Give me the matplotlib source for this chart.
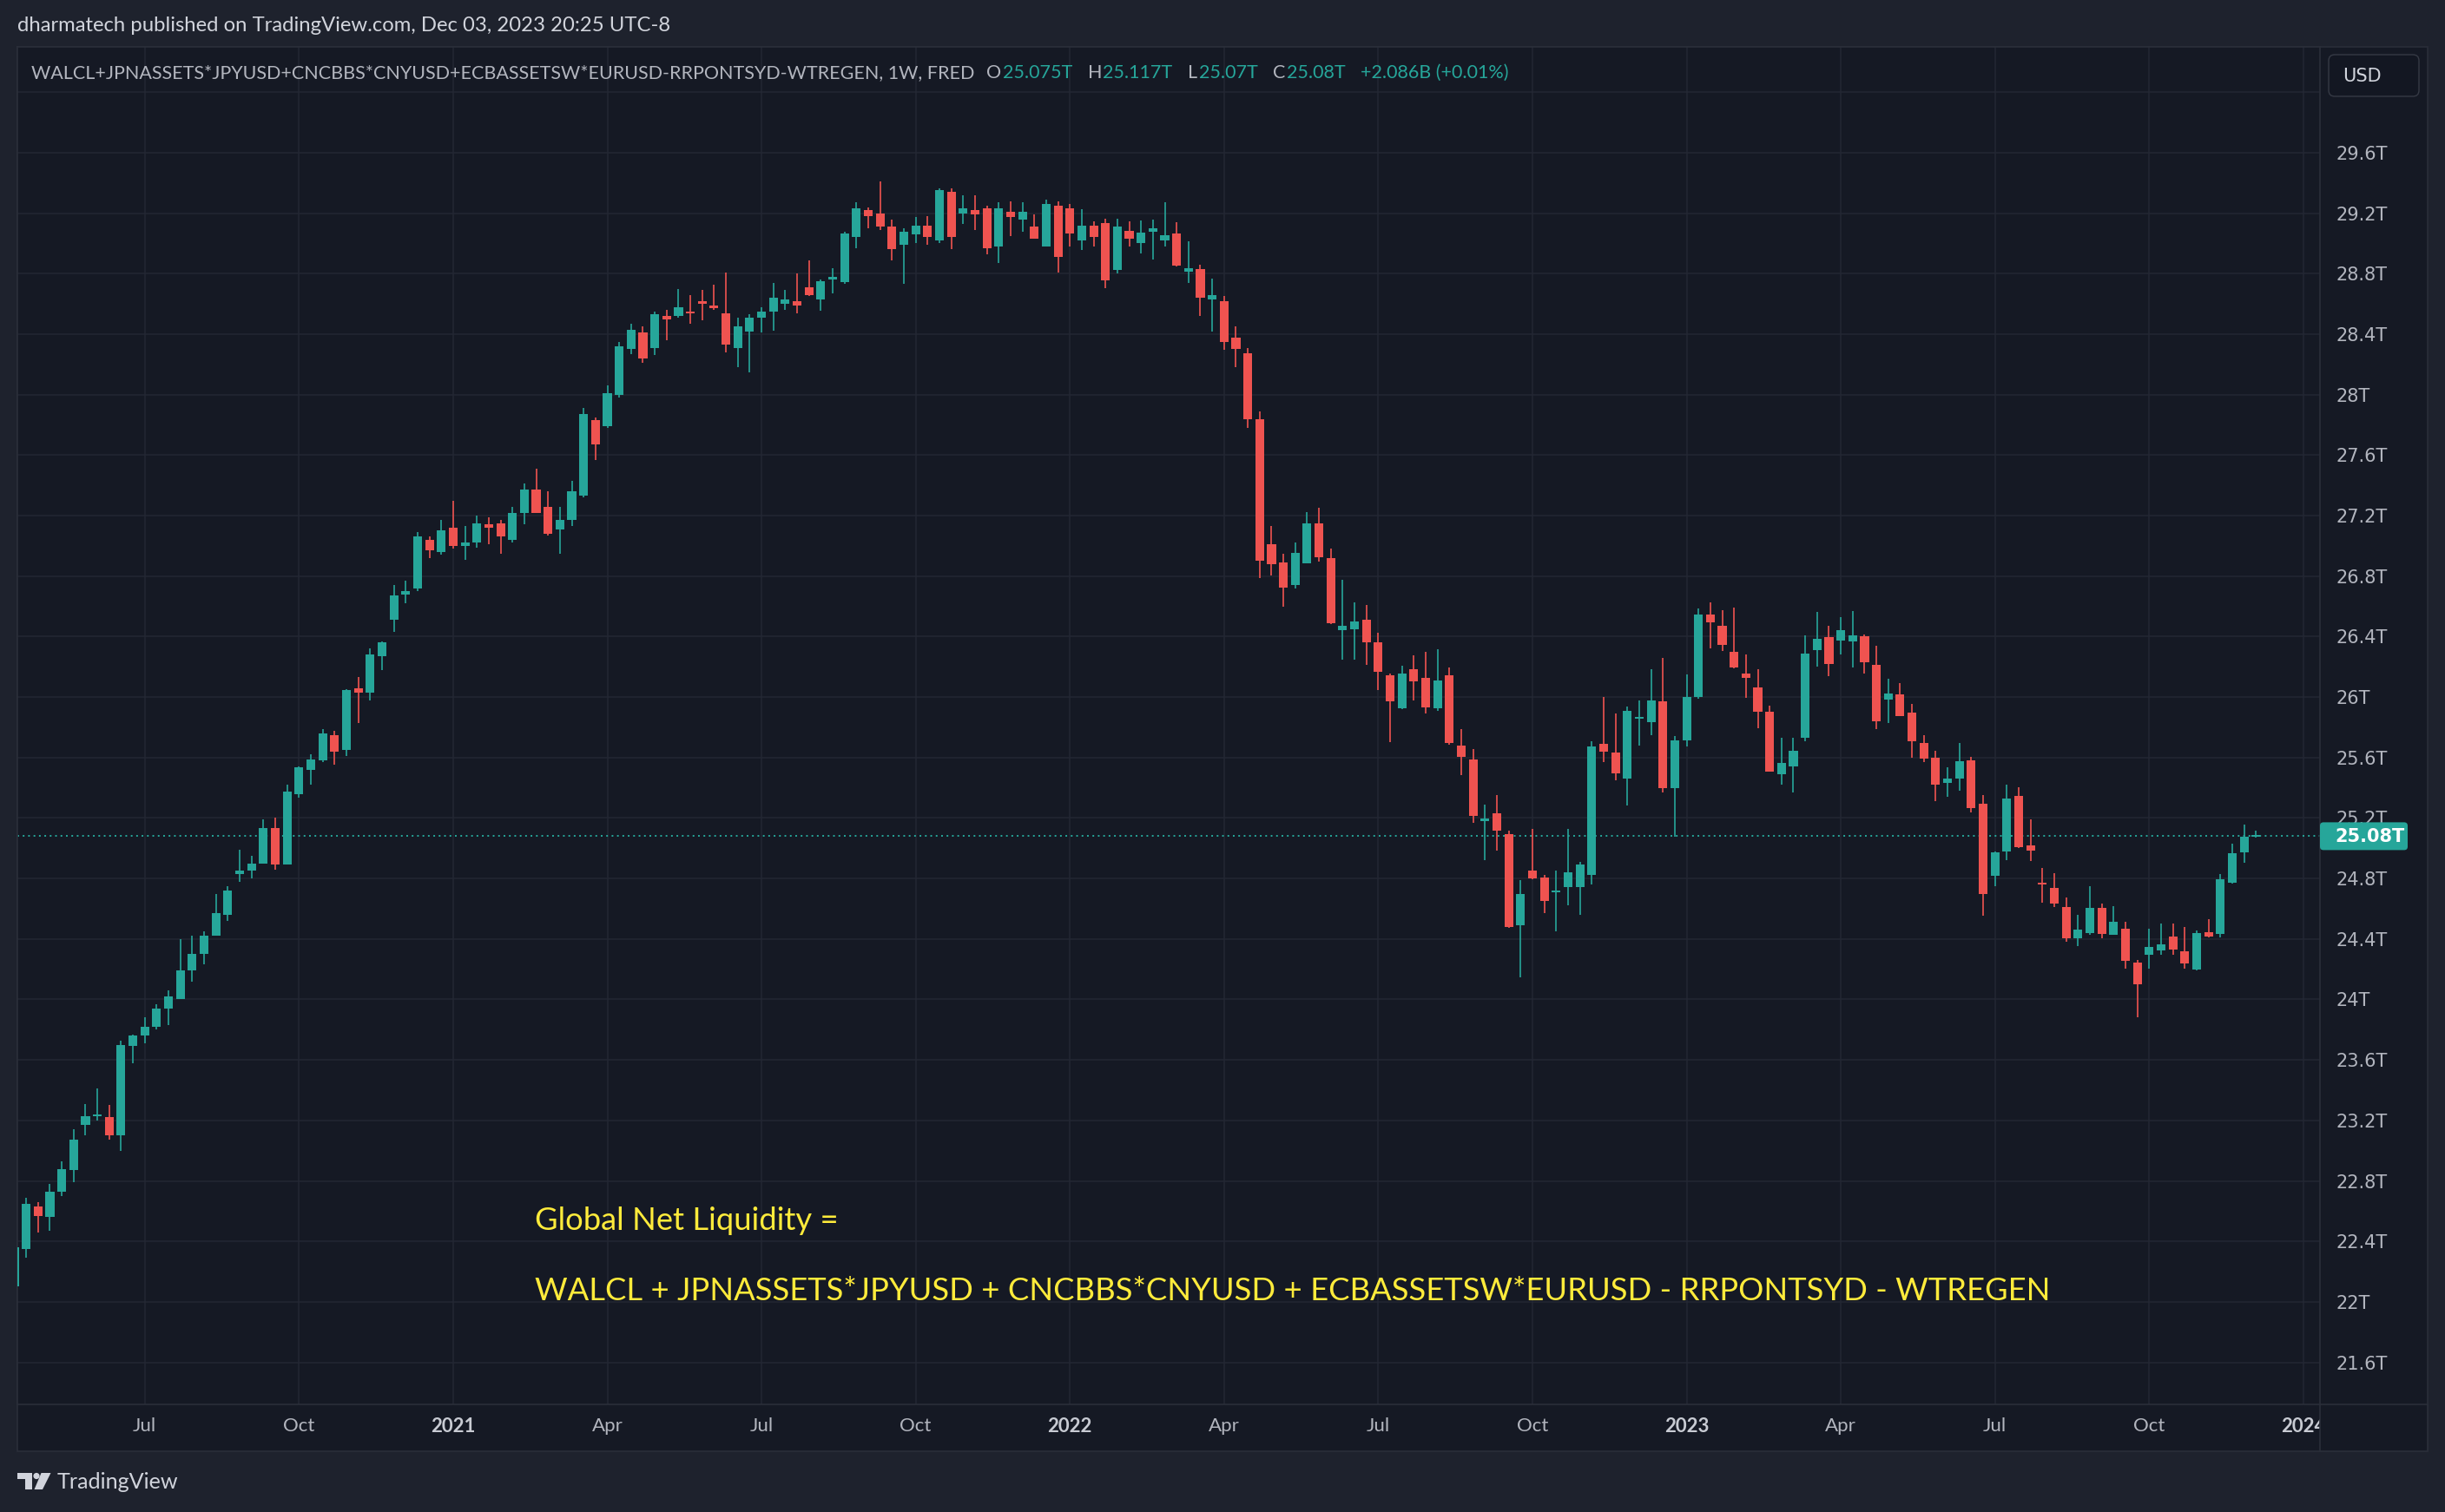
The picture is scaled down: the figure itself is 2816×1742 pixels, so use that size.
import numpy as np
import pandas as pd
import matplotlib
matplotlib.use("Agg")
import matplotlib.pyplot as plt
from matplotlib.patches import Rectangle, FancyBboxPatch, Polygon, Circle

W, H = 2816, 1742

# weekly bars (Monday dates), values in trillions USD
dates = pd.date_range("2020-04-20", periods=190, freq="7D")

opens = [
    22.10, 22.35, 22.63, 22.56, 22.73, 22.87, 23.17, 23.23, 23.22, 23.10,
    23.69, 23.76, 23.82, 23.94, 24.00, 24.19, 24.30, 24.42, 24.56, 24.83,
    24.85, 24.90, 25.135, 24.89, 25.36, 25.52, 25.58, 25.75, 25.65, 26.06,
    26.03, 26.27, 26.51, 26.68, 26.72, 27.04, 26.96, 27.12, 27.00, 27.02,
    27.14, 27.15, 27.04, 27.22, 27.37, 27.26, 27.11, 27.17, 27.33, 27.83,
    27.79, 28.00, 28.30, 28.41, 28.31, 28.52, 28.52, 28.55, 28.62, 28.59,
    28.54, 28.31, 28.415, 28.51, 28.55, 28.60, 28.62, 28.71, 28.63, 28.76,
    28.745, 29.04, 29.22, 29.20, 29.11, 28.99, 29.06, 29.12, 29.02, 29.34,
    29.20, 29.22, 29.23, 28.98, 29.21, 29.16, 29.11, 28.98, 29.25, 29.235,
    29.022, 29.116, 29.134, 28.825, 29.083, 29.005, 29.076, 29.022, 29.064, 28.815,
    28.83, 28.63, 28.618, 28.377, 28.274, 27.838, 27.01, 26.888, 26.743, 26.883,
    27.148, 26.919, 26.443, 26.447, 26.513, 26.36, 26.145, 25.925, 26.186, 26.126,
    25.925, 26.142, 25.677, 25.587, 25.179, 25.229, 25.093, 24.49, 24.855, 24.806,
    24.706, 24.745, 24.745, 24.825, 25.688, 25.631, 25.462, 25.855, 25.835, 25.971,
    25.40, 25.711, 25.998, 26.544, 26.471, 26.30, 26.156, 26.065, 25.905, 25.49,
    25.539, 25.733, 26.31, 26.396, 26.375, 26.37, 26.404, 26.21, 25.981, 26.019,
    25.899, 25.699, 25.596, 25.432, 25.461, 25.581, 25.295, 24.819, 24.981, 25.347,
    25.019, 24.768, 24.739, 24.613, 24.403, 24.441, 24.603, 24.426, 24.47, 24.246,
    24.294, 24.322, 24.418, 24.32, 24.196, 24.447, 24.431, 24.772, 24.971, 25.075,
]
highs = [
    22.37, 22.69, 22.66, 22.78, 22.93, 23.14, 23.31, 23.41, 23.30, 23.73,
    23.77, 23.88, 23.97, 24.06, 24.40, 24.42, 24.45, 24.70, 24.75, 24.99,
    24.95, 25.19, 25.20, 25.42, 25.54, 25.62, 25.79, 25.775, 26.05, 26.13,
    26.32, 26.37, 26.74, 26.77, 27.09, 27.06, 27.17, 27.30, 27.13, 27.20,
    27.19, 27.17, 27.26, 27.41, 27.51, 27.36, 27.26, 27.43, 27.91, 27.85,
    28.06, 28.35, 28.47, 28.45, 28.55, 28.56, 28.70, 28.66, 28.69, 28.725,
    28.81, 28.51, 28.53, 28.58, 28.74, 28.69, 28.80, 28.89, 28.76, 28.835,
    29.075, 29.27, 29.24, 29.41, 29.16, 29.10, 29.175, 29.18, 29.365, 29.365,
    29.32, 29.32, 29.25, 29.27, 29.28, 29.27, 29.19, 29.29, 29.28, 29.263,
    29.228, 29.146, 29.165, 29.165, 29.146, 29.153, 29.158, 29.27, 29.14, 29.017,
    28.862, 28.77, 28.651, 28.45, 28.307, 27.887, 27.13, 26.947, 27.022, 27.223,
    27.254, 26.982, 26.773, 26.626, 26.607, 26.426, 26.157, 26.205, 26.276, 26.299,
    26.314, 26.193, 25.788, 25.654, 25.286, 25.351, 25.118, 24.789, 25.127, 24.825,
    24.85, 25.127, 24.907, 25.707, 25.998, 25.893, 25.935, 25.979, 26.186, 26.256,
    25.74, 26.151, 26.588, 26.626, 26.576, 26.59, 26.28, 26.185, 25.943, 25.728,
    25.733, 26.408, 26.562, 26.47, 26.528, 26.568, 26.415, 26.339, 26.122, 26.09,
    25.956, 25.747, 25.644, 25.533, 25.695, 25.604, 25.352, 24.981, 25.419, 25.404,
    25.19, 24.87, 24.838, 24.676, 24.561, 24.751, 24.636, 24.619, 24.512, 24.263,
    24.47, 24.504, 24.504, 24.481, 24.456, 24.533, 24.827, 25.032, 25.158, 25.117,
]
lows = [
    22.08, 22.29, 22.46, 22.47, 22.70, 22.79, 23.10, 23.20, 23.07, 23.00,
    23.58, 23.71, 23.80, 23.83, 24.00, 24.12, 24.23, 24.42, 24.52, 24.78,
    24.80, 24.90, 24.857, 24.89, 25.335, 25.42, 25.57, 25.55, 25.61, 25.83,
    25.98, 26.18, 26.43, 26.62, 26.70, 26.92, 26.94, 26.98, 26.91, 26.99,
    27.01, 26.95, 27.02, 27.14, 27.22, 27.07, 26.95, 27.13, 27.32, 27.57,
    27.78, 27.98, 28.27, 28.21, 28.26, 28.36, 28.51, 28.47, 28.49, 28.56,
    28.28, 28.18, 28.15, 28.41, 28.425, 28.56, 28.535, 28.655, 28.555, 28.67,
    28.73, 28.97, 29.10, 29.09, 28.89, 28.73, 29.00, 28.99, 29.00, 28.965,
    29.13, 29.09, 28.93, 28.87, 29.05, 29.075, 29.03, 28.98, 28.81, 28.977,
    28.954, 28.98, 28.705, 28.80, 28.98, 28.935, 28.893, 28.98, 28.848, 28.736,
    28.52, 28.417, 28.297, 28.182, 27.78, 26.785, 26.806, 26.60, 26.72, 26.883,
    26.895, 26.48, 26.246, 26.246, 26.21, 26.044, 25.70, 25.92, 25.979, 25.893,
    25.906, 25.686, 25.485, 25.169, 24.922, 24.984, 24.471, 24.147, 24.796, 24.572,
    24.452, 24.62, 24.557, 24.758, 25.571, 25.447, 25.284, 25.678, 25.749, 25.37,
    25.079, 25.673, 25.99, 26.323, 26.304, 26.19, 25.996, 25.796, 25.505, 25.419,
    25.371, 25.705, 26.204, 26.139, 26.282, 26.196, 26.156, 25.79, 25.829, 25.876,
    25.60, 25.568, 25.314, 25.339, 25.381, 25.238, 24.552, 24.747, 24.924, 25.004,
    24.918, 24.638, 24.613, 24.38, 24.351, 24.426, 24.403, 24.426, 24.202, 23.885,
    24.206, 24.294, 24.294, 24.206, 24.19, 24.408, 24.412, 24.764, 24.906, 25.07,
]
closes = [
    22.36, 22.65, 22.57, 22.73, 22.88, 23.07, 23.23, 23.24, 23.10, 23.70,
    23.76, 23.82, 23.94, 24.02, 24.19, 24.30, 24.42, 24.57, 24.72, 24.85,
    24.90, 25.135, 24.89, 25.375, 25.535, 25.587, 25.76, 25.64, 26.045, 26.03,
    26.28, 26.36, 26.67, 26.70, 27.06, 26.97, 27.10, 27.00, 27.02, 27.15,
    27.12, 27.06, 27.22, 27.37, 27.22, 27.08, 27.17, 27.36, 27.87, 27.67,
    28.01, 28.32, 28.43, 28.24, 28.53, 28.50, 28.58, 28.54, 28.60, 28.57,
    28.33, 28.45, 28.51, 28.55, 28.64, 28.63, 28.59, 28.66, 28.75, 28.78,
    29.065, 29.23, 29.18, 29.11, 28.96, 29.08, 29.12, 29.04, 29.35, 29.04,
    29.23, 29.19, 28.97, 29.23, 29.175, 29.21, 29.03, 29.26, 28.91, 29.064,
    29.116, 29.04, 28.755, 29.11, 29.034, 29.069, 29.10, 29.052, 28.853, 28.834,
    28.642, 28.656, 28.349, 28.304, 27.84, 26.90, 26.881, 26.724, 26.952, 27.148,
    26.923, 26.49, 26.471, 26.499, 26.363, 26.168, 25.97, 26.155, 26.103, 25.931,
    26.109, 25.696, 25.606, 25.213, 25.194, 25.118, 24.477, 24.70, 24.802, 24.653,
    24.72, 24.84, 24.892, 25.673, 25.64, 25.497, 25.906, 25.864, 25.979, 25.40,
    25.715, 25.998, 26.544, 26.496, 26.343, 26.194, 26.124, 25.905, 25.505, 25.562,
    25.642, 26.286, 26.385, 26.219, 26.442, 26.408, 26.232, 25.842, 26.025, 25.876,
    25.705, 25.59, 25.419, 25.463, 25.577, 25.267, 24.695, 24.975, 25.328, 25.01,
    24.987, 24.758, 24.632, 24.406, 24.464, 24.603, 24.435, 24.516, 24.254, 24.102,
    24.349, 24.366, 24.332, 24.24, 24.441, 24.418, 24.795, 24.967, 25.078, 25.08,
]

price_ticks = [21.6, 22.0, 22.4, 22.8, 23.2, 23.6, 24.0, 24.4, 24.8, 25.2,
               25.6, 26.0, 26.4, 26.8, 27.2, 27.6, 28.0, 28.4, 28.8, 29.2, 29.6]
last_price = 25.08

symbol = "WALCL+JPNASSETS*JPYUSD+CNCBBS*CNYUSD+ECBASSETSW*EURUSD-RRPONTSYD-WTREGEN, 1W, FRED"
ohlc_text = [("O", "25.075T"), ("H", "25.117T"), ("L", "25.07T"), ("C", "25.08T")]
change_text = "+2.086B (+0.01%)"
formula = "WALCL + JPNASSETS*JPYUSD + CNCBBS*CNYUSD + ECBASSETSW*EURUSD - RRPONTSYD - WTREGEN"

UP, DOWN = "#26a69a", "#ef5350"
OUTER, PANEL, BORDER, GRID = "#1e222d", "#151924", "#2a2e39", "#232733"
TXT = "#b2b5be"

fig = plt.figure(figsize=(W / 100, H / 100), dpi=100, facecolor=OUTER)

# underlay with the chart panel
bg = fig.add_axes([0, 0, 1, 1], zorder=0)
bg.set_xlim(0, W)
bg.set_ylim(H, 0)
bg.axis("off")
bg.add_patch(Rectangle((20, 54), 2776, 1618, facecolor=PANEL, edgecolor=BORDER, lw=1.2))

# main price chart
ax = fig.add_axes([20 / W, 1 - 1618 / H, 2652 / W, 1564 / H], zorder=1)
ax.set_facecolor(PANEL)
x = np.arange(len(closes))
o, h, l, c = map(np.array, (opens, highs, lows, closes))
cols = np.where(c >= o, UP, DOWN)
ax.vlines(x, l, h, colors=cols, lw=1.2, zorder=3)
body = np.maximum(np.abs(c - o), 0.012)
ax.bar(x, body, bottom=np.minimum(o, c), width=0.74, color=cols, lw=0, zorder=4)
ax.axhline(last_price, color=UP, lw=1.4, ls=(0, (1, 2.2)), zorder=2)

ax.set_xlim(0.256, 194.4)
ax.set_ylim(21.322, 30.30)

# quarter ticks on the bar index scale
all_dates = pd.date_range(dates[0], periods=len(dates) + 6, freq="7D")
tick_pos, tick_lab = [], []
for i in range(1, len(all_dates)):
    d, p = all_dates[i], all_dates[i - 1]
    if d.month != p.month and d.month in (1, 4, 7, 10):
        tick_pos.append(i)
        tick_lab.append(str(d.year) if d.month == 1 else d.strftime("%b"))
ax.set_xticks(tick_pos)
ax.set_xticklabels(tick_lab, fontsize=16, family="Lato", color=TXT)
for lab in ax.get_xticklabels():
    if lab.get_text().isdigit():
        lab.set_fontweight("bold")
        lab.set_color("#c8cbd3")

ax.set_yticks(price_ticks + [30.0])
ax.set_yticklabels([f"{v:g}T" for v in price_ticks] + [""], fontsize=15,
                   family="DejaVu Sans", color=TXT)
ax.yaxis.tick_right()
ax.tick_params(axis="y", length=0, pad=13)
ax.tick_params(axis="x", length=0, pad=11)
ax.grid(True, color=GRID, lw=1.1)
ax.set_axisbelow(True)
for sp in ax.spines.values():
    sp.set_color(BORDER)
    sp.set_linewidth(1.2)

# overlay for everything drawn in pixel coordinates
ov = fig.add_axes([0, 0, 1, 1], zorder=2)
ov.set_xlim(0, W)
ov.set_ylim(H, 0)
ov.axis("off")
ov.patch.set_alpha(0)

fig.canvas.draw()
rend = fig.canvas.get_renderer()


def text_w(s, size, family="Lato", weight="normal"):
    t = ov.text(0, 0, s, fontsize=size, family=family, weight=weight)
    w = t.get_window_extent(renderer=rend).width
    t.remove()
    return w


def fit(s, target, family="Lato", weight="normal"):
    return 20 * target / text_w(s, 20, family, weight)


# corner under the price scale (clips the 2024 label)
ov.add_patch(Rectangle((2672, 1618), 124, 54, facecolor=PANEL, edgecolor=BORDER, lw=1.2))

# publisher line
s1 = "dharmatech published on TradingView.com, Dec 03, 2023 20:25 UTC-8"
ov.text(20, 29, s1, fontsize=fit(s1, 754), family="Lato", color="#d1d4dc", va="center")

# legend line with OHLC values
fs = fit(symbol, 1086)
xx = 36
ov.text(xx, 84, symbol, fontsize=fs, family="Lato", color=TXT, va="center")
xx += text_w(symbol, fs) + 14
for letter, val in ohlc_text:
    ov.text(xx, 84, letter, fontsize=fs, family="Lato", color=TXT, va="center")
    xx += text_w(letter, fs) + 1
    ov.text(xx, 84, val, fontsize=fs, family="Lato", color=UP, va="center")
    xx += text_w(val, fs) + 18
ov.text(xx, 84, change_text, fontsize=fs, family="Lato", color=UP, va="center")

# USD button
ov.add_patch(FancyBboxPatch((2682, 63), 104, 48, boxstyle="round,pad=0,rounding_size=7",
                            facecolor="#131722", edgecolor="#363a45", lw=1.0))
ov.text(2720, 88, "USD", fontsize=15, family="DejaVu Sans", color="#d1d4dc",
        ha="center", va="center")

# last price label
py = 176 + (29.6 - last_price) * 174.2
ov.add_patch(FancyBboxPatch((2672, py - 16), 101, 32, boxstyle="round,pad=0,rounding_size=4",
                            facecolor=UP, edgecolor="none"))
ov.text(2689, py + 1, "25.08T", fontsize=15, family="DejaVu Sans", weight="bold",
        color="white", va="center")

# annotation
fs2 = fit(formula, 1738)
ov.text(616, 1406, "Global Net Liquidity =", fontsize=fs2, family="Lato", color="#ffeb3b", va="center")
ov.text(616, 1487, formula, fontsize=fs2, family="Lato", color="#ffeb3b", va="center")

# TradingView logo
logo = "#d1d4dc"
ov.add_patch(Polygon([(20, 1697), (37, 1697), (37, 1716), (29, 1716), (29, 1704), (20, 1704)],
                     closed=True, facecolor=logo, edgecolor="none"))
ov.add_patch(Circle((42, 1700.5), 3.6, facecolor=logo, edgecolor="none"))
ov.add_patch(Polygon([(47.5, 1697), (58.5, 1697), (49, 1716), (39.5, 1716)],
                     closed=True, facecolor=logo, edgecolor="none"))
ov.text(66, 1707, "TradingView", fontsize=fit("TradingView", 140), family="Lato",
        color=logo, va="center")

plt.savefig("out.png", dpi=100, facecolor=OUTER)
